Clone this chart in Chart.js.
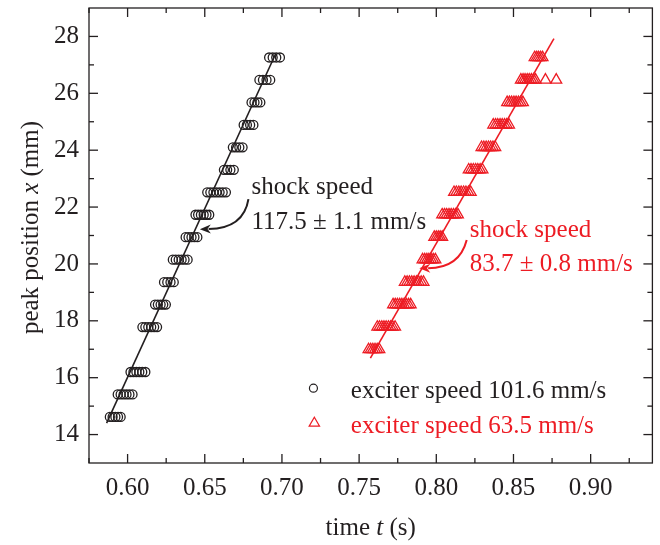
<!DOCTYPE html>
<html><head><meta charset="utf-8">
<script src="https://cdn.jsdelivr.net/npm/chart.js@4.4.1/dist/chart.umd.min.js"></script>
<style>html,body{margin:0;padding:0;background:#fff}#wrap{width:660px;height:545px}</style>
</head><body><div id="wrap"><canvas id="c" width="660" height="545"></canvas></div>
<script>
// ---- data ----
const xTickLabels = ['0.60','0.65','0.70','0.75','0.80','0.85','0.90'];
const yTickLabels = ['14','16','18','20','22','24','26','28'];
const xMinorTicks = [0.575,0.625,0.675,0.725,0.775,0.825,0.875,0.925];
const yMinorTicks = [15,17,19,21,23,25,27];

// exciter speed 101.6 mm/s  (time s, peak position mm)
const blackT = [
0.5885,0.5903,0.5921,0.5938,0.5955,
0.5936,0.5955,0.5974,0.5993,0.6012,0.6032,
0.6019,0.6038,0.6057,0.6076,0.6095,0.6115,
0.6096,0.6115,0.6134,0.6153,0.6172,0.6191,
0.6178,0.6196,0.6214,0.6231,0.6248,
0.6236,0.6257,0.6278,0.6299,
0.6293,0.6312,0.6331,0.6350,0.6369,0.6389,
0.6376,0.6395,0.6414,0.6433,0.6452,
0.6440,0.6457,0.6475,0.6493,0.6511,0.6529,
0.6516,0.6536,0.6556,0.6576,0.6596,0.6616,0.6637,
0.6624,0.6645,0.6666,0.6688,
0.6682,0.6703,0.6724,0.6745,
0.6752,0.6773,0.6794,0.6815,
0.6803,0.6822,0.6841,0.6860,
0.6854,0.6877,0.6900,0.6924,
0.6917,0.6940,0.6963,0.6987];
const blackX = [
14.62,14.62,14.62,14.62,14.62,
15.41,15.41,15.41,15.41,15.41,15.41,
16.20,16.20,16.20,16.20,16.20,16.20,
17.78,17.78,17.78,17.78,17.78,17.78,
18.57,18.57,18.57,18.57,18.57,
19.36,19.36,19.36,19.36,
20.15,20.15,20.15,20.15,20.15,20.15,
20.94,20.94,20.94,20.94,20.94,
21.73,21.73,21.73,21.73,21.73,21.73,
22.52,22.52,22.52,22.52,22.52,22.52,22.52,
23.31,23.31,23.31,23.31,
24.10,24.10,24.10,24.10,
24.89,24.89,24.89,24.89,
25.68,25.68,25.68,25.68,
26.47,26.47,26.47,26.47,
27.26,27.26,27.26,27.26];

// exciter speed 63.5 mm/s
const redT = [
0.7561,0.7575,0.7589,0.7603,0.7617,0.7631,
0.7618,0.7632,0.7647,0.7661,0.7675,0.7690,0.7704,0.7718,0.7733,
0.7720,0.7734,0.7748,0.7763,0.7777,0.7791,0.7806,0.7820,0.7834,
0.7796,0.7811,0.7826,0.7841,0.7856,0.7871,0.7886,0.7902,0.7917,
0.7911,0.7925,0.7939,0.7952,0.7966,0.7980,0.7994,
0.7987,0.8000,0.8013,0.8025,0.8038,
0.8038,0.8053,0.8067,0.8082,0.8096,0.8111,0.8125,0.8140,
0.8115,0.8130,0.8146,0.8161,0.8177,0.8192,0.8208,0.8223,
0.8210,0.8225,0.8240,0.8255,0.8269,0.8284,0.8299,
0.8293,0.8308,0.8323,0.8338,0.8352,0.8367,0.8382,
0.8369,0.8384,0.8398,0.8413,0.8427,0.8442,0.8456,0.8471,
0.8459,0.8474,0.8488,0.8503,0.8517,0.8532,0.8546,0.8561,
0.8548,0.8562,0.8575,0.8589,0.8602,0.8616,0.8630,0.8643,0.8707,0.8777,
0.8637,0.8650,0.8662,0.8675,0.8688];
const redX = [
16.99,16.99,16.99,16.99,16.99,16.99,
17.78,17.78,17.78,17.78,17.78,17.78,17.78,17.78,17.78,
18.57,18.57,18.57,18.57,18.57,18.57,18.57,18.57,18.57,
19.36,19.36,19.36,19.36,19.36,19.36,19.36,19.36,19.36,
20.15,20.15,20.15,20.15,20.15,20.15,20.15,
20.94,20.94,20.94,20.94,20.94,
21.73,21.73,21.73,21.73,21.73,21.73,21.73,21.73,
22.52,22.52,22.52,22.52,22.52,22.52,22.52,22.52,
23.31,23.31,23.31,23.31,23.31,23.31,23.31,
24.10,24.10,24.10,24.10,24.10,24.10,24.10,
24.89,24.89,24.89,24.89,24.89,24.89,24.89,24.89,
25.68,25.68,25.68,25.68,25.68,25.68,25.68,25.68,
26.47,26.47,26.47,26.47,26.47,26.47,26.47,26.47,26.47,26.47,
27.26,27.26,27.26,27.26,27.26];

// linear fits (end points)
const blackFitT = [0.5864, 0.6960];
const blackFitX = [14.40, 27.40];
const redFitT = [0.7573, 0.8762];
const redFitX = [16.69, 27.92];

const seriesLabels = ['exciter speed 101.6 mm/s', 'exciter speed 63.5 mm/s'];
const shockLabels = [['shock speed', '117.5 \u00b1 1.1 mm/s'], ['shock speed', '83.7 \u00b1 0.8 mm/s']];

// ---- styling ----
const INK = '#231f20';
const RED = '#ed1c24';
const FONT = "'Liberation Serif', 'Times New Roman', serif";
const FS = 25;

const pts = (ts, xs) => ts.map((t, i) => ({x: t, y: xs[i]}));

function richText(ctx, parts, x, y, align) {
  let w = 0;
  parts.forEach(p => { ctx.font = (p.i ? 'italic ' : '') + FS + 'px ' + FONT; w += ctx.measureText(p.t).width; });
  let cx = align === 'center' ? x - w / 2 : x;
  parts.forEach(p => { ctx.font = (p.i ? 'italic ' : '') + FS + 'px ' + FONT; ctx.textAlign = 'left'; ctx.fillText(p.t, cx, y); cx += ctx.measureText(p.t).width; });
}

function arrow(ctx, x0, y0, cx, cy, x1, y1, color) {
  ctx.save();
  ctx.strokeStyle = color; ctx.fillStyle = color; ctx.lineWidth = 2;
  const ang = Math.atan2(y1 - cy, x1 - cx);
  const hl = 11, hw = 4.5;
  const bx = x1 - Math.cos(ang) * hl * 0.8, by = y1 - Math.sin(ang) * hl * 0.8;
  ctx.beginPath(); ctx.moveTo(x0, y0); ctx.quadraticCurveTo(cx, cy, bx, by); ctx.stroke();
  ctx.beginPath();
  ctx.moveTo(x1, y1);
  ctx.lineTo(x1 - Math.cos(ang) * hl - Math.sin(ang) * hw, y1 - Math.sin(ang) * hl + Math.cos(ang) * hw);
  ctx.lineTo(x1 - Math.cos(ang) * hl * 0.7, y1 - Math.sin(ang) * hl * 0.7);
  ctx.lineTo(x1 - Math.cos(ang) * hl + Math.sin(ang) * hw, y1 - Math.sin(ang) * hl - Math.cos(ang) * hw);
  ctx.closePath(); ctx.fill();
  ctx.restore();
}

const decor = {
  id: 'decor',
  afterDraw(chart) {
    const {ctx, chartArea: a, scales: {x, y}} = chart;
    const X = v => x.getPixelForValue(v), Y = v => y.getPixelForValue(v);
    ctx.save();
    // frame
    ctx.strokeStyle = INK; ctx.lineWidth = 1.3;
    ctx.strokeRect(a.left, a.top, a.right - a.left, a.bottom - a.top);
    const seg = (x0, y0, x1, y1) => { ctx.beginPath(); ctx.moveTo(x0, y0); ctx.lineTo(x1, y1); ctx.stroke(); };
    // inward ticks
    xTickLabels.forEach(l => { const p = X(parseFloat(l)); seg(p, a.bottom, p, a.bottom - 9); seg(p, a.top, p, a.top + 9); });
    xMinorTicks.forEach(v => { const p = X(v); seg(p, a.bottom, p, a.bottom - 5); seg(p, a.top, p, a.top + 5); });
    yTickLabels.forEach(l => { const p = Y(parseFloat(l)); seg(a.left, p, a.left + 9, p); seg(a.right, p, a.right - 9, p); });
    yMinorTicks.forEach(v => { const p = Y(v); seg(a.left, p, a.left + 5, p); seg(a.right, p, a.right - 5, p); });

    // axis titles
    ctx.fillStyle = INK; ctx.textBaseline = 'alphabetic';
    richText(ctx, [{t: 'time '}, {t: 't', i: 1}, {t: ' (s)'}], (a.left + a.right) / 2, 535, 'center');
    ctx.save();
    ctx.translate(38, (a.top + a.bottom) / 2 - 8); ctx.rotate(-Math.PI / 2);
    richText(ctx, [{t: 'peak position '}, {t: 'x', i: 1}, {t: ' (mm)'}], 0, 0, 'center');
    ctx.restore();

    // shock-speed annotations
    ctx.font = FS + 'px ' + FONT; ctx.textAlign = 'left';
    ctx.fillStyle = INK;
    ctx.fillText(shockLabels[0][0], X(0.6803), Y(22.45));
    ctx.fillText(shockLabels[0][1], X(0.6803), Y(21.22));
    arrow(ctx, X(0.6783), Y(22.28), X(0.6752), Y(21.25), X(0.6468), Y(21.22), INK);
    ctx.fillStyle = RED;
    ctx.fillText(shockLabels[1][0], X(0.8217), Y(20.94));
    ctx.fillText(shockLabels[1][1], X(0.8217), Y(19.75));
    arrow(ctx, X(0.8197), Y(20.84), X(0.8150), Y(19.85), X(0.7890), Y(19.85), RED);

    // legend
    ctx.lineWidth = 1.2;
    ctx.strokeStyle = INK;
    ctx.beginPath(); ctx.arc(X(0.7204), Y(15.63), 4, 0, Math.PI * 2); ctx.stroke();
    ctx.fillStyle = INK; ctx.fillText(seriesLabels[0], X(0.7446), Y(15.27));
    ctx.strokeStyle = RED;
    const tx = X(0.7210), ty = Y(14.40), r = 6;
    ctx.beginPath();
    ctx.moveTo(tx, ty - r); ctx.lineTo(tx + r * 0.866, ty + r / 2); ctx.lineTo(tx - r * 0.866, ty + r / 2); ctx.closePath(); ctx.stroke();
    ctx.fillStyle = RED; ctx.fillText(seriesLabels[1], X(0.7446), Y(14.04));
    ctx.restore();
  }
};

new Chart(document.getElementById('c'), {
  type: 'scatter',
  data: {
    datasets: [
      {label: seriesLabels[0], data: pts(blackT, blackX), pointStyle: 'circle', pointRadius: 4.5, borderColor: INK, backgroundColor: 'rgba(0,0,0,0)', borderWidth: 1.3},
      {label: seriesLabels[1], data: pts(redT, redX), pointStyle: 'triangle', pointRadius: 6.3, borderColor: RED, backgroundColor: 'rgba(0,0,0,0)', borderWidth: 1.3},
      {type: 'line', label: 'fit1', data: pts(blackFitT, blackFitX), borderColor: INK, borderWidth: 1.6, pointRadius: 0, fill: false},
      {type: 'line', label: 'fit2', data: pts(redFitT, redFitX), borderColor: RED, borderWidth: 1.6, pointRadius: 0, fill: false}
    ]
  },
  options: {
    responsive: false, animation: false,
    layout: {padding: {left: 0, right: 3, top: 8, bottom: 0}},
    plugins: {legend: {display: false}, tooltip: {enabled: false}},
    scales: {
      x: {
        type: 'linear', min: 0.575, max: 0.94,
        afterBuildTicks: s => { s.ticks = xTickLabels.map(l => ({value: parseFloat(l)})); },
        afterFit: s => { s.height = 82; s.paddingLeft = 0; s.paddingRight = 0; },
        ticks: {callback: (v, i) => xTickLabels[i], font: {family: FONT, size: FS}, color: INK, padding: 10, maxRotation: 0, autoSkip: false},
        grid: {display: false, drawTicks: false}, border: {display: false}
      },
      y: {
        type: 'linear', min: 13, max: 29,
        afterBuildTicks: s => { s.ticks = yTickLabels.map(l => ({value: parseFloat(l)})); },
        afterFit: s => { s.width = 89; s.paddingTop = 0; s.paddingBottom = 0; },
        ticks: {callback: (v, i) => yTickLabels[i], font: {family: FONT, size: FS}, color: INK, padding: 10, autoSkip: false},
        grid: {display: false, drawTicks: false}, border: {display: false}
      }
    }
  },
  plugins: [decor]
});
</script></body></html>
